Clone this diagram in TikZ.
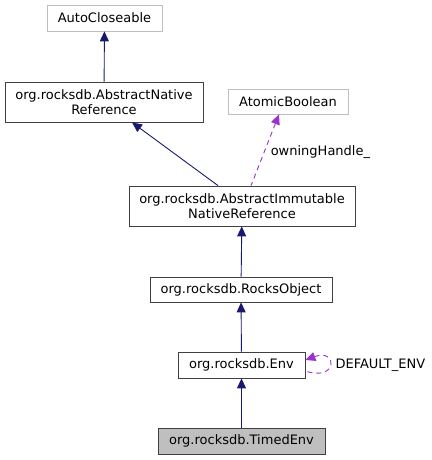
\documentclass[tikz,border=0pt]{standalone}
\usepackage{fontspec}
\setmainfont{DejaVu Sans}
\usetikzlibrary{arrows.meta,positioning}
\definecolor{edgeBlue}{RGB}{25,25,112}
\definecolor{edgePurple}{RGB}{154,50,205}
\definecolor{boxGray}{RGB}{191,191,191}
\definecolor{boxBorder}{RGB}{64,64,64}

\begin{document}
\begin{tikzpicture}[x=1pt, y=-1pt, every node/.style={font=\fontsize{13}{15}\selectfont},
  cls/.style={draw=boxBorder, line width=0.8pt, fill=white, inner sep=3pt, align=center},
  ext/.style={draw=boxGray, line width=0.8pt, fill=white, inner sep=3pt, align=center},
  inh/.style={{Triangle[length=10pt, width=9pt]}-, line width=0.9pt, color=edgeBlue},
  use/.style={{Triangle[length=10pt, width=9pt]}-, line width=0.9pt, color=edgePurple, dash pattern=on 5pt off 4pt}]
\useasboundingbox (0,0) rectangle (431,460);
\node[ext, minimum width=115pt, minimum height=26pt] (auto) at (104.5,18) {AutoCloseable};
\node[cls, minimum width=198pt, minimum height=40pt] (anr) at (104,102) {org.rocksdb.AbstractNative\\Reference};
\node[ext, minimum width=120pt, minimum height=25pt] (atomic) at (288,101.5) {AtomicBoolean};
\node[cls, minimum width=226pt, minimum height=40pt] (ainr) at (242,206) {org.rocksdb.AbstractImmutable\\NativeReference};
\node[cls, minimum width=182pt, minimum height=25pt] (robj) at (241,289.5) {org.rocksdb.RocksObject};
\node[cls, minimum width=127pt, minimum height=26pt] (env) at (241.5,365) {org.rocksdb.Env};
\node[cls, fill=boxGray, minimum width=167pt, minimum height=26pt] (timed) at (241.5,441) {org.rocksdb.TimedEnv};
\node[anchor=west] (defenv) at (332,365) {DEFAULT\_ENV};

\draw[inh] (auto) -- (anr);
\draw[inh] (anr.south -| 132,0) -- (ainr.north -| 218,0);
\draw[use] (atomic.south -| 279,0) -- node[right, color=black, xshift=2pt, yshift=-2pt] {owningHandle\_} (ainr.north -| 251,0);
\draw[inh] (ainr) -- (robj);
\draw[inh] (robj) -- (env);
\draw[inh] (env) -- (timed);
\draw[use] ([yshift=5pt]env.east) .. controls (338,348) and (338,382) .. ([yshift=-6pt]env.east);
\end{tikzpicture}
\end{document}
